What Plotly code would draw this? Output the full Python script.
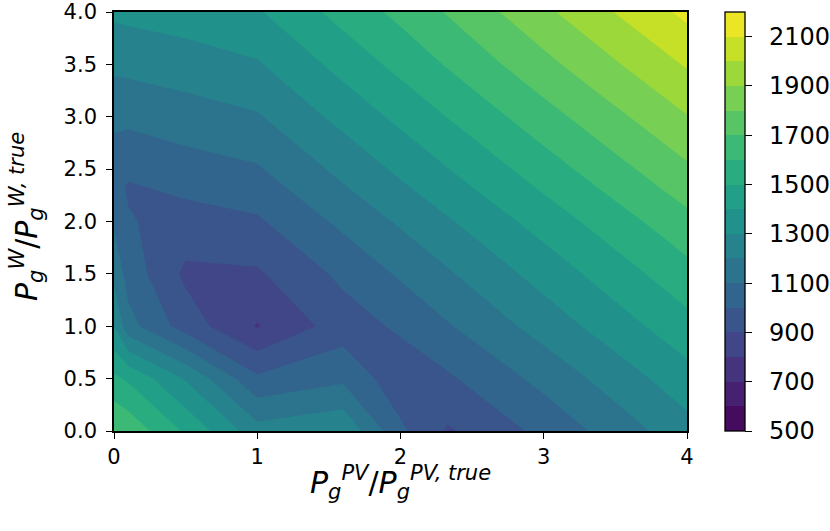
import plotly.graph_objects as go
from plotly.colors import sample_colorscale

# ---- data ----
pv_ratio = [0, 0.1, 0.5, 1, 1.6, 2, 2.33, 3, 3.5, 4]          # x grid
w_ratio = [0, 0.5, 1, 1.5, 2, 2.33, 3, 3.5, 4]                 # y grid

cost_y0 = [1708, 1670, 1485, 1240, 1286, 1020, 888, 1027, 1144, 1262]
cost_y05 = [1520, 1485, 1290, 1019, 1080, 935, 985, 1130, 1245, 1360]
cost_y1 = [1300, 1135, 955, 793, 950, 1017, 1091, 1241, 1353, 1465]
cost_y15 = [1172, 1060, 880, 887, 1023, 1113, 1188, 1339, 1452, 1565]
cost_y2 = [1085, 1008, 960, 986, 1123, 1214, 1289, 1442, 1556, 1670]
cost_y233 = [1035, 990, 1022, 1055, 1193, 1285, 1361, 1515, 1630, 1745]
cost_y3 = [1120, 1124, 1156, 1190, 1331, 1425, 1503, 1660, 1777, 1895]
cost_y35 = [1223, 1228, 1250, 1290, 1434, 1530, 1609, 1770, 1890, 2010]
cost_y4 = [1320, 1326, 1350, 1390, 1537, 1627, 1708, 1878, 2003, 2125]

level_start = 500
level_end = 2200
level_step = 100
cbar_ticks = [500, 700, 900, 1100, 1300, 1500, 1700, 1900, 2100]
x_ticks = [0, 1, 2, 3, 4]
y_ticks = [0, 0.5, 1, 1.5, 2, 2.5, 3, 3.5, 4]
y_ticktext = ["0.0", "0.5", "1.0", "1.5", "2.0", "2.5", "3.0", "3.5", "4.0"]

z = [cost_y0, cost_y05, cost_y1, cost_y15, cost_y2, cost_y233, cost_y3, cost_y35, cost_y4]

# ---- matplotlib-like viridis band colours ----
VIR = ['#440154', '#482475', '#414487', '#355f8d', '#2a788e', '#21918c',
       '#22a884', '#44bf70', '#7ad151', '#bddf26', '#fde725']
vir_scale = [[i / 10, c] for i, c in enumerate(VIR)]
n_bands = (level_end - level_start) // level_step
band_cols = sample_colorscale(vir_scale, [(i + 0.5) / n_bands for i in range(n_bands)])

# plotly contour fill colour map: band i midpoint -> position (i+1)/(n_bands+1)
nlev = n_bands + 1
contour_cs = [[0, band_cols[0]]]
for i, c in enumerate(band_cols):
    contour_cs.append([(i + 1) / nlev, c])
contour_cs.append([1, band_cols[-1]])

# discrete colour scale for the colour bar
bar_cs = []
for i, c in enumerate(band_cols):
    bar_cs.append([i / n_bands, c])
    bar_cs.append([(i + 1) / n_bands, c])

FONT = "DejaVu Sans"

fig = go.Figure()
fig.add_trace(go.Contour(
    x=pv_ratio, y=w_ratio, z=z,
    autocontour=False,
    contours=dict(start=level_start, end=level_end, size=level_step,
                  coloring="fill", showlines=False),
    line=dict(width=0, smoothing=0),
    colorscale=contour_cs,
    showscale=False,
    hoverinfo="skip",
))
fig.add_trace(go.Scatter(
    x=[None], y=[None], mode="markers", showlegend=False, hoverinfo="skip",
    marker=dict(color=[level_start], colorscale=bar_cs, cmin=level_start, cmax=level_end,
                showscale=True,
                colorbar=dict(
                    x=1.066, xanchor="left", xpad=0, ypad=0,
                    y=0.5, yanchor="middle", len=1, lenmode="fraction",
                    thickness=20, thicknessmode="pixels",
                    outlinewidth=1.3, outlinecolor="black",
                    tickvals=cbar_ticks,
                    ticktext=["\u2002" + str(v) for v in cbar_ticks],
                    ticks="outside", ticklen=7, tickwidth=1.3,
                    tickcolor="black",
                    tickfont=dict(family=FONT, size=24, color="black"),
                )),
))

axis_common = dict(
    showgrid=False, zeroline=False, showline=True, linecolor="black", linewidth=1.6,
    mirror=True, ticks="outside", ticklen=6, tickwidth=1.3, tickcolor="black",
    tickfont=dict(family=FONT, size=21, color="black"),
)
fig.update_xaxes(range=[0, 4], tickvals=x_ticks, **axis_common)
fig.update_yaxes(range=[0, 4], tickvals=y_ticks, ticktext=y_ticktext,
                 ticklabelstandoff=5, **axis_common)

fig.add_annotation(
    text="<i>P</i><sub><i>g</i></sub><sup><i>PV</i></sup>/<i>P</i><sub><i>g</i></sub><sup><i>PV, true</i></sup>",
    xref="paper", yref="paper", x=0.5, y=-0.123, xanchor="center", yanchor="middle",
    showarrow=False, font=dict(family=FONT, size=30, color="black"),
)
fig.add_annotation(
    text="<i>P</i><sub><i>g</i></sub><sup><i>W</i></sup>/<i>P</i><sub><i>g</i></sub><sup><i>W, true</i></sup>",
    xref="paper", yref="paper", x=-0.1536, y=0.513, xanchor="center", yanchor="middle",
    textangle=-90, showarrow=False, font=dict(family=FONT, size=30, color="black"),
)

fig.update_layout(
    width=830, height=531,
    margin=dict(l=114, r=143, t=12, b=100, autoexpand=False),
    paper_bgcolor="white", plot_bgcolor="white",
    showlegend=False,
)
# remove the default 8px page margin so the figure sits at the window's corner
fig.write_html("out.html", config={"displayModeBar": False},
               post_script="document.body.style.margin='0';")
